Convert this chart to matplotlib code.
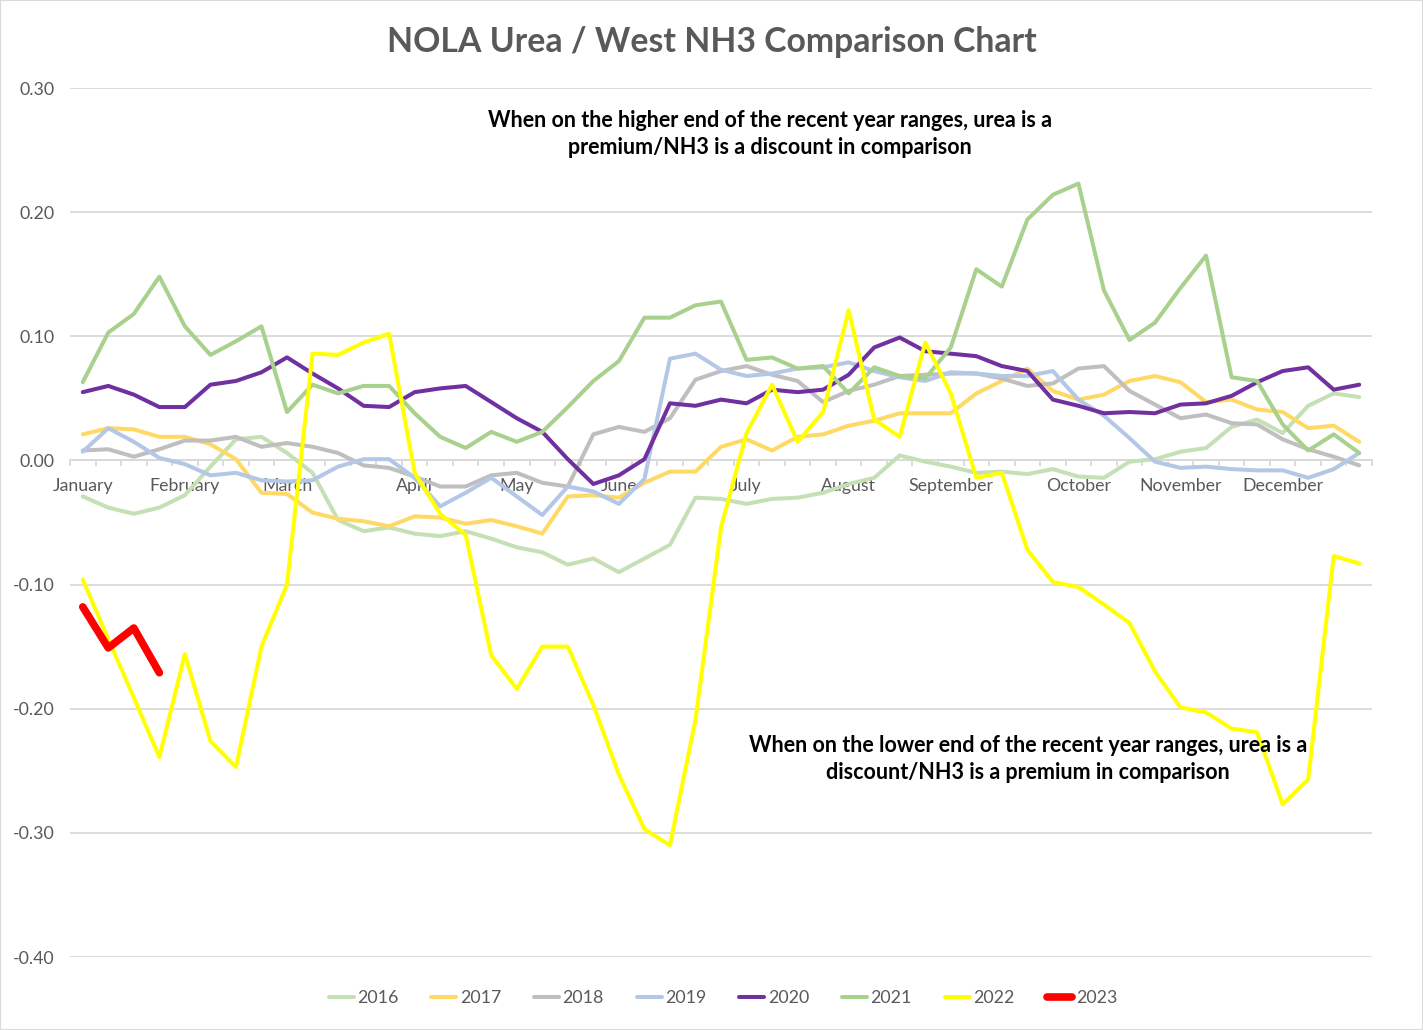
import matplotlib
matplotlib.use("Agg")
import matplotlib.pyplot as plt
from matplotlib.patches import Rectangle
from matplotlib.ticker import FuncFormatter
import numpy as np

plt.rcParams['font.family'] = ['Lato', 'DejaVu Sans']

# weekly spread values, 51 weeks per year
y2016 = [-0.029, -0.038, -0.043, -0.038, -0.028, -0.005, 0.017, 0.019, 0.006, -0.010,
         -0.048, -0.057, -0.054, -0.059, -0.061, -0.057, -0.063, -0.070, -0.074, -0.084,
         -0.079, -0.090, -0.079, -0.068, -0.030, -0.031, -0.035, -0.031, -0.030, -0.026,
         -0.019, -0.014, 0.004, -0.001, -0.005, -0.010, -0.009, -0.011, -0.007, -0.013,
         -0.014, -0.001, 0.001, 0.007, 0.010, 0.027, 0.033, 0.022, 0.044, 0.054, 0.051]
y2017 = [0.021, 0.026, 0.025, 0.019, 0.019, 0.013, 0.001, -0.026, -0.027, -0.042,
         -0.047, -0.049, -0.053, -0.045, -0.046, -0.051, -0.048, -0.053, -0.059, -0.029,
         -0.028, -0.030, -0.018, -0.009, -0.009, 0.011, 0.017, 0.008, 0.019, 0.021,
         0.028, 0.032, 0.038, 0.038, 0.038, 0.054, 0.064, 0.074, 0.056, 0.049,
         0.053, 0.064, 0.068, 0.063, 0.047, 0.049, 0.041, 0.039, 0.026, 0.028, 0.015]
y2018 = [0.008, 0.009, 0.003, 0.009, 0.016, 0.016, 0.019, 0.011, 0.014, 0.011,
         0.006, -0.004, -0.006, -0.013, -0.021, -0.021, -0.012, -0.010, -0.018, -0.021,
         0.021, 0.027, 0.023, 0.034, 0.065, 0.072, 0.076, 0.069, 0.064, 0.047,
         0.056, 0.061, 0.068, 0.069, 0.070, 0.070, 0.066, 0.060, 0.062, 0.074,
         0.076, 0.056, 0.045, 0.034, 0.037, 0.030, 0.029, 0.017, 0.009, 0.003, -0.004]
y2019 = [0.007, 0.026, 0.015, 0.002, -0.003, -0.012, -0.010, -0.016, -0.017, -0.016,
         -0.005, 0.001, 0.001, -0.014, -0.037, -0.026, -0.014, -0.029, -0.044, -0.021,
         -0.025, -0.035, -0.015, 0.082, 0.086, 0.073, 0.068, 0.070, 0.074, 0.075,
         0.079, 0.072, 0.067, 0.064, 0.071, 0.070, 0.068, 0.068, 0.072, 0.049,
         0.036, 0.018, -0.001, -0.006, -0.005, -0.007, -0.008, -0.008, -0.014, -0.007, 0.006]
y2020 = [0.055, 0.060, 0.053, 0.043, 0.043, 0.061, 0.064, 0.071, 0.083, 0.070,
         0.058, 0.044, 0.043, 0.055, 0.058, 0.060, 0.047, 0.034, 0.023, 0.001,
         -0.019, -0.012, 0.001, 0.046, 0.044, 0.049, 0.046, 0.057, 0.055, 0.057,
         0.069, 0.091, 0.099, 0.088, 0.086, 0.084, 0.076, 0.072, 0.049, 0.044,
         0.038, 0.039, 0.038, 0.045, 0.046, 0.052, 0.063, 0.072, 0.075, 0.057, 0.061]
y2021 = [0.063, 0.103, 0.118, 0.148, 0.108, 0.085, 0.096, 0.108, 0.039, 0.061,
         0.054, 0.060, 0.060, 0.038, 0.019, 0.010, 0.023, 0.015, 0.023, 0.043,
         0.064, 0.080, 0.115, 0.115, 0.125, 0.128, 0.081, 0.083, 0.074, 0.076,
         0.054, 0.075, 0.068, 0.066, 0.091, 0.154, 0.140, 0.194, 0.214, 0.223,
         0.137, 0.097, 0.111, 0.139, 0.165, 0.067, 0.064, 0.029, 0.008, 0.021, 0.006]
y2022 = [-0.096, -0.144, -0.191, -0.239, -0.156, -0.226, -0.247, -0.150, -0.100, 0.086,
         0.085, 0.095, 0.102, -0.010, -0.043, -0.060, -0.157, -0.184, -0.150, -0.150,
         -0.197, -0.253, -0.297, -0.310, -0.209, -0.054, 0.022, 0.061, 0.015, 0.039,
         0.121, 0.033, 0.019, 0.095, 0.054, -0.014, -0.010, -0.072, -0.098, -0.102,
         -0.116, -0.131, -0.170, -0.199, -0.203, -0.216, -0.219, -0.277, -0.257, -0.077, -0.083]
y2023 = [-0.118, -0.151, -0.135, -0.171]

years = ['2016', '2017', '2018', '2019', '2020', '2021', '2022', '2023']
series = [y2016, y2017, y2018, y2019, y2020, y2021, y2022, y2023]
colors = ['#C5E0B4', '#FFD966', '#BFBFBF', '#B4C7E7', '#7030A0', '#A9D18E', '#FFFF00', '#FF0000']
widths = [2.9, 2.9, 2.9, 2.9, 2.9, 2.9, 2.9, 5.5]

months = ['January', 'February', 'March', 'April', 'May', 'June', 'July',
          'August', 'September', 'October', 'November', 'December']
month_pos = [0, 4, 8, 13, 17, 21, 26, 30, 34, 39, 43, 47]

W, H = 1423, 1030
fig = plt.figure(figsize=(W / 100, H / 100), dpi=100)
ax = fig.add_axes([70 / W, 1 - 957 / H, 1302 / W, 869 / H])

for yr, vals, c, lw in zip(years, series, colors, widths):
    ax.plot(np.arange(len(vals)), vals, color=c, lw=lw, label=yr,
            solid_joinstyle='round', solid_capstyle='round', zorder=2)

ax.set_xlim(-0.5, 50.5)
ax.set_ylim(-0.40, 0.30)
ax.set_yticks(np.arange(-0.40, 0.301, 0.10))
ax.yaxis.set_major_formatter(FuncFormatter(lambda v, p: '0.00' if abs(v) < 1e-9 else f'{v:.2f}'))
ax.grid(axis='y', color='#D9D9D9', lw=1.3)
ax.set_axisbelow(True)

for s in ['top', 'right', 'left']:
    ax.spines[s].set_visible(False)
ax.spines['bottom'].set_position(('data', 0))
ax.spines['bottom'].set_color('#D9D9D9')
ax.spines['bottom'].set_linewidth(1.3)
ax.spines['bottom'].set_zorder(1)

ax.set_xticks(np.arange(-0.5, 51, 1))
ax.set_xticklabels([])
ax.set_xticks(month_pos, minor=True)
ax.set_xticklabels(months, minor=True)
ax.tick_params(axis='x', which='major', length=4, width=1.3, color='#D9D9D9')
ax.tick_params(axis='x', which='minor', length=0, pad=13, labelsize=12.8, labelcolor='#595959')
ax.tick_params(axis='y', length=0, pad=11, labelsize=12.8, labelcolor='#595959')

fig.text(0.5, 1 - 42 / H, 'NOLA Urea / West NH3 Comparison Chart', ha='center', va='center',
         fontsize=24.3, fontweight='bold', color='#595959')

fig.text(770 / W, 1 - 134 / H,
         'When on the higher end of the recent year ranges, urea is a\npremium/NH3 is a discount in comparison',
         ha='center', va='center', fontsize=15.5, fontweight='bold', color='black', linespacing=1.3)
fig.text(1028 / W, 1 - 759 / H,
         'When on the lower end of the recent year ranges, urea is a\ndiscount/NH3 is a premium in comparison',
         ha='center', va='center', fontsize=15.5, fontweight='bold', color='black', linespacing=1.3)

fig.legend(loc='center', bbox_to_anchor=(723 / W, 1 - 998 / H), ncol=8, frameon=False,
           fontsize=12.8, labelcolor='#595959', handlelength=1.4, handletextpad=0.2,
           columnspacing=1.85)

fig.patches.append(Rectangle((0, 0), 1, 1, transform=fig.transFigure, fill=False,
                             edgecolor='#D9D9D9', lw=1.5))

fig.savefig('out.png', dpi=100)
